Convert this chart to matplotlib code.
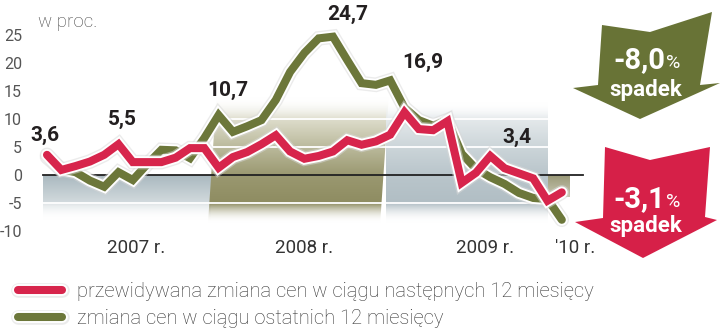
import numpy as np
import pandas as pd
import matplotlib
matplotlib.use('Agg')
import matplotlib.pyplot as plt
import matplotlib.patheffects as pe
from matplotlib.patches import Polygon
from matplotlib.colors import to_rgba

# monthly data, Jan 2007 - Jan 2010 (w proc.)
months = pd.period_range('2007-01', '2010-01', freq='M')
expected = [3.6, 0.9, 1.6, 2.4, 3.6, 5.5, 2.3, 2.3, 2.3, 3.1, 4.8, 4.8, 1.3,
            3.2, 4.1, 5.5, 7.1, 4.2, 2.9, 3.4, 4.2, 6.2, 5.4, 6.0, 7.2, 11.2,
            8.2, 8.0, 9.6, -1.4, 0.4, 3.4, 1.2, 0.3, -0.6, -4.6, -3.1]
recent = [3.2, 1.0, 0.5, -1.0, -2.1, 0.5, -0.9, 1.9, 4.5, 4.4, 3.0, 6.6, 10.7,
          7.7, 8.7, 9.8, 13.4, 18.4, 21.8, 24.4, 24.7, 20.5, 16.4, 16.1, 16.9,
          12.0, 9.8, 8.8, 9.8, 3.8, 1.1, -0.4, -1.6, -3.2, -4.1, -4.3, -8.0]
yticks = [25, 20, 15, 10, 5, 0, -5, -10]
year_labels = ['2007 r.', '2008 r.', '2009 r.', "'10 r."]
legend_labels = ['przewidywana zmiana cen w ciągu następnych 12 miesięcy',
                 'zmiana cen w ciągu ostatnich 12 miesięcy']
change_recent = -8.0
change_expected = -3.1

RED = '#d7254c'
GREEN = '#6c773a'
plt.rcParams['font.family'] = ['Roboto', 'DejaVu Sans']

x = np.arange(len(months))

fig = plt.figure(figsize=(7.2, 3.34), dpi=100)
# axes in pixel terms: left 40, right 600, top 30, bottom 233
L, R, T, B = 40, 600, 30, 233
ax = fig.add_axes([L / 720, (334 - B) / 334, (R - L) / 720, (B - T) / 334])
px_m, x0 = 14.3, 47
ax.set_xlim((L - x0) / px_m, (R - x0) / px_m)
ax.set_ylim((175 - B) / 5.6, (175 - T) / 5.6)
for s in ax.spines.values():
    s.set_visible(False)
ax.patch.set_alpha(0)


def grad_fill(poly, y0, y1, stops, z=1):
    n = 256
    t = np.linspace(0, 1, n)
    cols = np.zeros((n, 1, 4))
    fr = [s[0] for s in stops]
    rgba = [to_rgba(s[1], s[2]) for s in stops]
    for c in range(4):
        cols[:, 0, c] = np.interp(t, fr, [r[c] for r in rgba])
    xs = [p[0] for p in poly]
    im = ax.imshow(cols, extent=(min(xs), max(xs), y0, y1), origin='lower',
                   aspect='auto', zorder=z, interpolation='bilinear')
    patch = Polygon(poly, closed=True, facecolor='none', edgecolor='none',
                    transform=ax.transData)
    ax.add_patch(patch)
    im.set_clip_path(patch)


def frac(v, y0, y1):
    return (v - y0) / (y1 - y0)


# 2007 band below zero
y0, y1 = -8, 0
grad_fill([(-0.28, y0), (11.45, y0), (11.45, y1), (-0.28, y1)], y0, y1,
          [(0, 'white', 0), (frac(-5.2, y0, y1), '#e3e8ea', 1),
           (frac(-5, y0, y1), '#d3dbde', 1), (1, '#a9b8bf', 1)])
# 2008 olive band
y0, y1 = -8.5, 14
grad_fill([(11.26, y0), (23.3, y0), (23.9, y1), (11.85, y1)], y0, y1,
          [(0, 'white', 0), (frac(-5, y0, y1), '#8e8c61', 1),
           (frac(0, y0, y1), '#9a9870', 1), (frac(5, y0, y1), '#bab99b', 1),
           (frac(10, y0, y1), '#dddccb', 1), (1, 'white', 0)])
# 2009 grey band
y0, y1 = -8.5, 13
grad_fill([(23.7, y0), (35.03, y0), (35.03, y1), (23.7, y1)], y0, y1,
          [(0, 'white', 0), (frac(-5, y0, y1), '#b1bec4', 1),
           (frac(0, y0, y1), '#b9c5cb', 1), (frac(5, y0, y1), '#ccd5d9', 1),
           (frac(10, y0, y1), '#e4e9eb', 1), (1, 'white', 0)])
# 2010 olive block
y0, y1 = -4, 0
grad_fill([(35.03, y0), (36.6, y0), (36.6, y1), (35.03, y1)], y0, y1,
          [(0, '#c9c8b4', 1), (1, '#979674', 1)])

for g in (-5, 5, 10):
    ax.plot([-0.28, 35.03], [g, g], color='white', lw=1.3, zorder=2)
ax.plot([-0.28, 37.5], [0, 0], color='#222222', lw=1.3, zorder=3)

halo = [pe.Stroke(linewidth=10.5, foreground='#d8d8d8', alpha=0.5),
        pe.Stroke(linewidth=8.5, foreground='white'), pe.Normal()]
l_green, = ax.plot(x, recent, color=GREEN, lw=5.8, solid_joinstyle='miter',
                   solid_capstyle='round', zorder=5, clip_on=False,
                   path_effects=halo)
l_red, = ax.plot(x, expected, color=RED, lw=5.8, solid_joinstyle='miter',
                 solid_capstyle='round', zorder=6, clip_on=False,
                 path_effects=halo)

# value labels
ann = [(expected, 0, -2, 19), (expected, 5, 4, 25), (recent, 12, 9, 25),
       (recent, 20, 15, 22), (recent, 24, 33, 18), (expected, 31, 27, 19)]
for ser, i, dx, dy in ann:
    ax.annotate(f'{ser[i]:.1f}'.replace('.', ','), xy=(x[i], ser[i]),
                xytext=(dx * 0.72, dy * 0.72), textcoords='offset points',
                ha='center', va='center', fontsize=15, fontweight='bold',
                color='#231f20', zorder=8)

ax.set_yticks(yticks)
ax.set_yticklabels([str(v) for v in yticks])
ax.set_xticks([6.2, 18.0, 30.6, 36.9])
ax.set_xticklabels(year_labels)
ax.tick_params(axis='y', length=0, pad=13, labelsize=11.5, labelcolor='#555555')
ax.tick_params(axis='x', length=0, pad=4, labelsize=13.5, labelcolor='#333333')
ax.text(-0.6, 27.4, 'w proc.', fontsize=13.5, color='#444444', fontweight='light',
        ha='left', va='center')

# overlay in pixel coordinates for arrows
ov = fig.add_axes([0, 0, 1, 1], zorder=10)
ov.set_xlim(0, 720)
ov.set_ylim(334, 0)
ov.axis('off')
g_arrow = [(602, 25), (650, 32), (712, 12), (700, 85), (720, 83), (640, 119),
           (573, 88), (598, 85)]
r_arrow = [(605, 147), (650, 160), (710, 147), (705, 217), (717, 220),
           (643, 258), (575, 222), (603, 218)]
ov.add_patch(Polygon(g_arrow, closed=True, facecolor='#687336', edgecolor='none'))
ov.add_patch(Polygon(r_arrow, closed=True, facecolor='#d62048', edgecolor='none'))
for val, yb, ys in ((change_recent, 68, 96), (change_expected, 207, 232)):
    ov.text(665, yb, f'{val:.1f}'.replace('.', ','), ha='right', va='baseline',
            color='white', fontsize=21, fontweight='bold')
    ov.text(666, yb, '%', ha='left', va='baseline', color='white', fontsize=14)
    ov.text(646, ys, 'spadek', ha='center', va='baseline', color='white',
            fontsize=16, fontweight='bold')

fig.legend([l_red, l_green], legend_labels, loc='upper left',
           bbox_to_anchor=(18 / 720, 1 - 282 / 334), frameon=False,
           prop={'weight': 'light', 'size': 14.5},
           handlelength=2.2, handletextpad=0.75, labelspacing=0.42,
           borderpad=0, borderaxespad=0, labelcolor='#333333')

fig.savefig('out.png', dpi=100)
